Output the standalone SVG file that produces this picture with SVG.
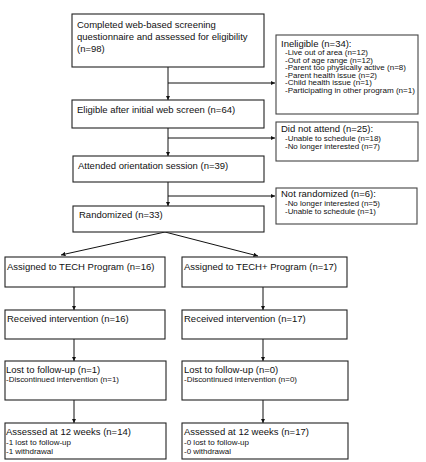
<svg xmlns="http://www.w3.org/2000/svg" width="426" height="462" viewBox="0 0 426 462">
<defs>
<marker id="ah" viewBox="0 0 6 6" refX="6" refY="3" markerWidth="4.5" markerHeight="4.5" orient="auto"><path d="M0,0 L6,3 L0,6 z" fill="#111"/></marker>
<style>
.box{fill:#fff;stroke:#222;stroke-width:1.1}
.sbox{fill:#fff;stroke:#444;stroke-width:1.1}
text{font-family:"Liberation Sans",Arial,sans-serif;fill:#111}
.m{font-size:9.5px}
.h{font-size:9.5px}
.s{font-size:7.2px}
.t{font-size:6.8px}
.c{fill:none;stroke:#111;stroke-width:1}
</style>
</defs>
<rect width="426" height="462" fill="#fff"/>
<g id="connectors">
<line class="c" x1="168" y1="67" x2="168" y2="100" marker-end="url(#ah)"/>
<line class="c" x1="168" y1="83" x2="275" y2="83" marker-end="url(#ah)"/>
<line class="c" x1="168" y1="128" x2="168" y2="156" marker-end="url(#ah)"/>
<line class="c" x1="168" y1="138" x2="275" y2="138" marker-end="url(#ah)"/>
<line class="c" x1="168" y1="182" x2="168" y2="206" marker-end="url(#ah)"/>
<line class="c" x1="168" y1="196" x2="275" y2="196" marker-end="url(#ah)"/>
<line class="c" x1="165" y1="232" x2="61" y2="255" marker-end="url(#ah)"/>
<line class="c" x1="165" y1="232" x2="258" y2="256" marker-end="url(#ah)"/>
<line class="c" x1="74" y1="287" x2="74" y2="310" marker-end="url(#ah)"/>
<line class="c" x1="263" y1="287" x2="263" y2="310" marker-end="url(#ah)"/>
<line class="c" x1="74" y1="339" x2="74" y2="361" marker-end="url(#ah)"/>
<line class="c" x1="263" y1="339" x2="263" y2="361" marker-end="url(#ah)"/>
<line class="c" x1="74" y1="400" x2="74" y2="423" marker-end="url(#ah)"/>
<line class="c" x1="263" y1="400" x2="263" y2="423" marker-end="url(#ah)"/>
</g>
<g id="screened">
<rect class="box" x="72" y="14" width="192" height="53"/>
<text class="m" x="77" y="27.5">Completed web-based screening</text>
<text class="m" x="77" y="39.5">questionnaire and assessed for eligibility</text>
<text class="m" x="77" y="51.5">(n=98)</text>
</g>
<g id="ineligible">
<rect class="sbox" x="276" y="35" width="142" height="79"/>
<text class="h" x="281" y="47">Ineligible (n=34):</text>
<text class="t" x="285" y="55" textLength="83" lengthAdjust="spacingAndGlyphs">-Live out of area (n=12)</text>
<text class="t" x="285" y="62.6" textLength="88" lengthAdjust="spacingAndGlyphs">-Out of age range (n=12)</text>
<text class="t" x="285" y="70.2" textLength="121" lengthAdjust="spacingAndGlyphs">-Parent too physically active (n=8)</text>
<text class="t" x="285" y="77.8" textLength="92" lengthAdjust="spacingAndGlyphs">-Parent health issue (n=2)</text>
<text class="t" x="285" y="85.4" textLength="87" lengthAdjust="spacingAndGlyphs">-Child health issue (n=1)</text>
<text class="t" x="285" y="93" textLength="130" lengthAdjust="spacingAndGlyphs">-Participating in other program (n=1)</text>
</g>
<g id="eligible">
<rect class="box" x="72" y="100" width="192" height="28"/>
<text class="m" x="77" y="113">Eligible after initial web screen (n=64)</text>
</g>
<g id="notattend">
<rect class="sbox" x="276" y="122" width="142" height="39"/>
<text class="h" x="281" y="132">Did not attend (n=25):</text>
<text class="s" x="285" y="141" textLength="96" lengthAdjust="spacingAndGlyphs">-Unable to schedule (n=18)</text>
<text class="s" x="285" y="149" textLength="95" lengthAdjust="spacingAndGlyphs">-No longer interested (n=7)</text>
</g>
<g id="attended">
<rect class="box" x="73" y="156" width="191" height="26"/>
<text class="m" x="78" y="168.5">Attended orientation session (n=39)</text>
</g>
<g id="notrandomized">
<rect class="sbox" x="276" y="188" width="141" height="36"/>
<text class="h" x="281" y="197">Not randomized (n=6):</text>
<text class="s" x="285" y="206" textLength="95" lengthAdjust="spacingAndGlyphs">-No longer interested (n=5)</text>
<text class="s" x="285" y="213.8" textLength="91" lengthAdjust="spacingAndGlyphs">-Unable to schedule (n=1)</text>
</g>
<g id="randomized">
<rect class="box" x="73" y="206" width="191" height="26"/>
<text class="m" x="79" y="217.5">Randomized (n=33)</text>
</g>
<g id="tech-assigned">
<rect class="box" x="5" y="257" width="160" height="30"/>
<text class="m" x="7" y="269.5">Assigned to TECH Program (n=16)</text>
</g>
<g id="techplus-assigned">
<rect class="box" x="182" y="257" width="165" height="30"/>
<text class="m" x="184" y="269.5">Assigned to TECH+ Program (n=17)</text>
</g>
<g id="tech-received">
<rect class="box" x="5" y="310" width="160" height="29"/>
<text class="m" x="7" y="322">Received intervention (n=16)</text>
</g>
<g id="techplus-received">
<rect class="box" x="182" y="310" width="165" height="29"/>
<text class="m" x="184" y="322">Received intervention (n=17)</text>
</g>
<g id="tech-lost">
<rect class="box" x="5" y="361" width="161" height="39"/>
<text class="h" x="6" y="373">Lost to follow-up (n=1)</text>
<text class="s" x="6" y="382" textLength="113" lengthAdjust="spacingAndGlyphs">-Discontinued intervention (n=1)</text>
</g>
<g id="techplus-lost">
<rect class="box" x="182" y="361" width="166" height="39"/>
<text class="h" x="184" y="373">Lost to follow-up (n=0)</text>
<text class="s" x="184" y="382" textLength="113" lengthAdjust="spacingAndGlyphs">-Discontinued intervention (n=0)</text>
</g>
<g id="tech-assessed">
<rect class="box" x="5" y="423" width="161" height="36"/>
<text class="h" x="6" y="435">Assessed at 12 weeks (n=14)</text>
<text class="s" x="6" y="445" textLength="65" lengthAdjust="spacingAndGlyphs">-1 lost to follow-up</text>
<text class="s" x="6" y="453.5" textLength="47" lengthAdjust="spacingAndGlyphs">-1 withdrawal</text>
</g>
<g id="techplus-assessed">
<rect class="box" x="182" y="423" width="166" height="36"/>
<text class="h" x="184" y="435">Assessed at 12 weeks (n=17)</text>
<text class="s" x="184" y="445" textLength="65" lengthAdjust="spacingAndGlyphs">-0 lost to follow-up</text>
<text class="s" x="184" y="453.5" textLength="47" lengthAdjust="spacingAndGlyphs">-0 withdrawal</text>
</g>
</svg>
